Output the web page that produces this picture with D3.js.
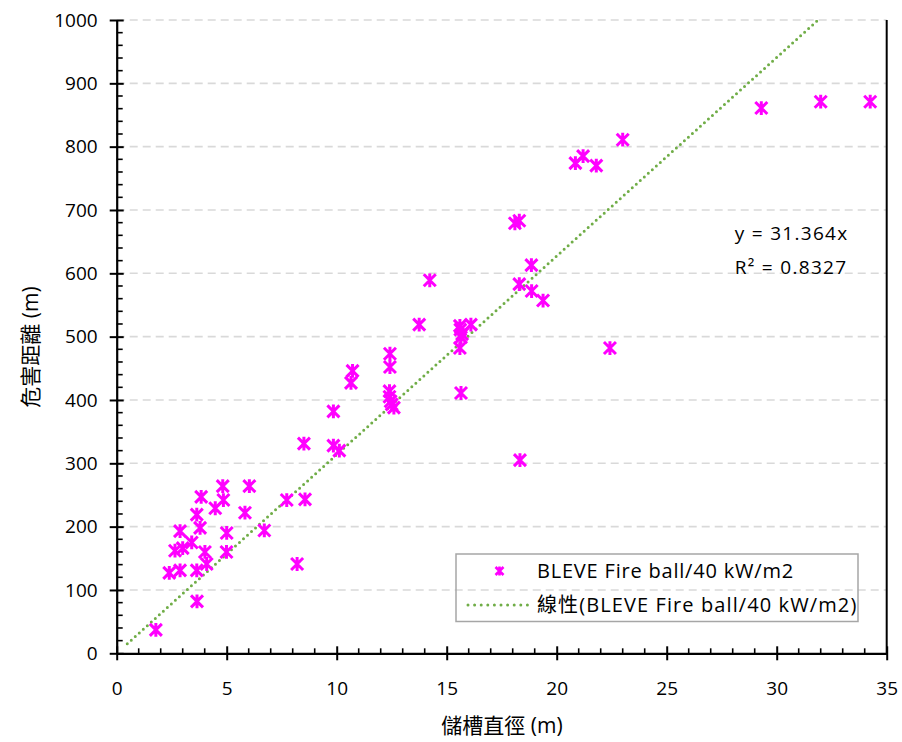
<!DOCTYPE html>
<html>
<head>
<meta charset="utf-8">
<script src="https://cdn.jsdelivr.net/npm/d3@7"></script>
<style>
	body { margin: 0; background: #fff; }
	text { font-family: "Open Sans", "Noto Sans CJK TC", sans-serif; fill: #000; }
</style>
</head>
<body>
<div id="app"></div>
<script>
// tank diameter (m) and hazard distance (m)
const diameters = [
	1.78, 3.65, 2.39, 2.88, 3.64, 4.09, 4.01, 4.99, 2.65, 3.0,
	3.41, 5.0, 6.71, 2.88, 3.79, 3.64, 5.83, 4.48, 4.85, 3.84,
	7.73, 8.56, 4.82, 6.03, 8.2, 8.51, 9.85, 10.12, 9.85, 10.65,
	10.72, 12.42, 12.42, 12.4, 12.4, 12.45, 12.5, 12.6, 13.75, 14.23,
	15.6, 15.62, 15.7, 15.65, 16.1, 15.6, 15.65, 18.3, 18.33, 18.86,
	19.38, 18.85, 18.1, 18.3, 20.85, 21.2, 21.8, 23.0, 22.42, 29.3,
	32.0, 34.25
];
const distances = [
	37, 82, 127, 131, 131, 141, 160, 160, 162, 166,
	175, 190, 194, 193, 198, 219, 222, 229, 242, 247,
	242, 243, 264, 264, 141, 331, 382, 320, 328, 427,
	446, 473, 452, 414, 405, 398, 393, 388, 519, 589,
	517, 511, 504, 499, 519, 482, 411, 583, 305, 572,
	557, 613, 679, 683, 774, 785, 770, 811, 482, 861,
	871, 871
];
const slope = 31.364;
const r2 = 0.8327;
const trendStart = 0.48;
const xTicks = [0, 5, 10, 15, 20, 25, 30, 35];
const yTicks = [0, 100, 200, 300, 400, 500, 600, 700, 800, 900, 1000];
const seriesName = 'BLEVE Fire ball/40 kW/m2';
const trendName = '線性(BLEVE Fire ball/40 kW/m2)';

const W = 902, H = 742;
const margin = { top: 20, right: 15.3, bottom: 88.7, left: 116.7 };
const width = W - margin.left - margin.right,
	height = H - margin.top - margin.bottom;

const xScale = d3.scaleLinear().domain([0, 35]).range([0, width]);
const yScale = d3.scaleLinear().domain([0, 1000]).range([height, 0]);

const svg = d3.select('#app').append('svg')
	.attr('width', W)
	.attr('height', H);

const g = svg.append('g')
	.attr('transform', `translate(${ margin.left },${ margin.top })`);

// dashed gridlines
g.append('g').selectAll('line')
	.data(yTicks.filter(d => d > 0))
	.enter().append('line')
	.attr('x1', 0).attr('x2', width)
	.attr('y1', d => yScale(d)).attr('y2', d => yScale(d))
	.attr('stroke', '#d9d9d9')
	.attr('stroke-width', 1.6)
	.attr('stroke-dasharray', '8,5');

// right border of plot area
g.append('line')
	.attr('x1', width).attr('x2', width)
	.attr('y1', 0).attr('y2', height)
	.attr('stroke', '#000').attr('stroke-width', 2);

// minor ticks (inside)
g.append('g').selectAll('line')
	.data(d3.range(1, 35).filter(d => d % 5 !== 0))
	.enter().append('line')
	.attr('x1', d => xScale(d)).attr('x2', d => xScale(d))
	.attr('y1', height).attr('y2', height - 5)
	.attr('stroke', '#000').attr('stroke-width', 1.6);
g.append('g').selectAll('line')
	.data(d3.range(20, 1000, 20).filter(d => d % 100 !== 0))
	.enter().append('line')
	.attr('y1', d => yScale(d)).attr('y2', d => yScale(d))
	.attr('x1', 0).attr('x2', 6)
	.attr('stroke', '#000').attr('stroke-width', 1.6);

// axes
const xAxis = d3.axisBottom(xScale)
	.tickValues(xTicks)
	.tickFormat(d3.format('d'))
	.tickSizeInner(7)
	.tickSizeOuter(0);
const xg = g.append('g')
	.attr('transform', `translate(0,${ height })`)
	.call(xAxis);

const yAxis = d3.axisLeft(yScale)
	.tickValues(yTicks)
	.tickFormat(d3.format('d'))
	.tickSizeInner(7)
	.tickSizeOuter(0)
	.tickPadding(12);
const yg = g.append('g').call(yAxis);

[xg, yg].forEach(a => {
	a.select('.domain').attr('stroke', '#000').attr('stroke-width', 2.2);
	a.selectAll('.tick line').attr('stroke', '#000').attr('stroke-width', 2);
	a.selectAll('.tick text')
		.style('font-family', '"Open Sans", sans-serif')
		.style('font-size', '19px')
		.attr('fill', '#000');
});
// major ticks cross the axis
xg.selectAll('.tick line').attr('y1', -7);
yg.selectAll('.tick line').attr('x1', 7);
xg.selectAll('.tick text').attr('dy', '0.71em').attr('y', 28);

// trend line clipped to the plot
svg.append('clipPath').attr('id', 'clip')
	.append('rect').attr('width', width).attr('height', height);
const trendEnd = 1000 / slope;
g.append('line')
	.attr('clip-path', 'url(#clip)')
	.attr('x1', xScale(trendStart)).attr('y1', yScale(slope * trendStart))
	.attr('x2', xScale(trendEnd)).attr('y2', yScale(slope * trendEnd))
	.attr('stroke', '#70ad47')
	.attr('stroke-width', 3)
	.attr('stroke-linecap', 'round')
	.attr('stroke-dasharray', '0,5.4');

// star markers (x plus vertical bar)
const star = (sel, s, w) => {
	sel.append('path')
		.attr('d', `M${-s},${-s}L${s},${s}M${-s},${s}L${s},${-s}M0,${-s * 1.15}L0,${s * 1.15}`)
		.attr('stroke', '#ff00ff')
		.attr('stroke-width', w)
		.attr('fill', 'none');
};
const pts = diameters.map((d, i) => ({ x: d, y: distances[i] }));
g.append('g').selectAll('g')
	.data(pts)
	.enter().append('g')
	.attr('transform', d => `translate(${ xScale(d.x) },${ yScale(d.y) })`)
	.each(function () { star(d3.select(this), 6, 3); });

// equation labels
g.append('text')
	.attr('x', 618).attr('y', 220)
	.style('font-size', '19px')
	.style('letter-spacing', '1.3px')
	.text(`y = ${ slope }x`);
g.append('text')
	.attr('x', 618).attr('y', 254)
	.style('font-size', '19px')
	.style('letter-spacing', '1.3px')
	.text(`R² = ${ r2 }`);

// legend
const lg = svg.append('g').attr('transform', 'translate(456,554)');
lg.append('rect')
	.attr('width', 402).attr('height', 67.5)
	.attr('fill', 'none')
	.attr('stroke', '#a6a6a6').attr('stroke-width', 1.5);
const lm = lg.append('g').attr('transform', 'translate(43.5,17)');
star(lm, 4, 2.6);
lg.append('text').attr('x', 81).attr('y', 24)
	.style('font-size', '20px')
	.style('letter-spacing', '0.8px')
	.text(seriesName);
lg.append('line')
	.attr('x1', 12).attr('x2', 72).attr('y1', 51).attr('y2', 51)
	.attr('stroke', '#70ad47').attr('stroke-width', 3)
	.attr('stroke-linecap', 'round').attr('stroke-dasharray', '0,6.6');
lg.append('text').attr('x', 81).attr('y', 58)
	.style('font-size', '20px')
	.style('letter-spacing', '1.1px')
	.text(trendName);

// axis titles
svg.append('text')
	.attr('x', 502).attr('y', 733)
	.attr('text-anchor', 'middle')
	.style('font-size', '21px')
	.text('儲槽直徑 (m)');
svg.append('text')
	.attr('transform', 'translate(38,347) rotate(-90)')
	.attr('text-anchor', 'middle')
	.style('font-size', '21px')
	.text('危害距離 (m)');
</script>
</body>
</html>
